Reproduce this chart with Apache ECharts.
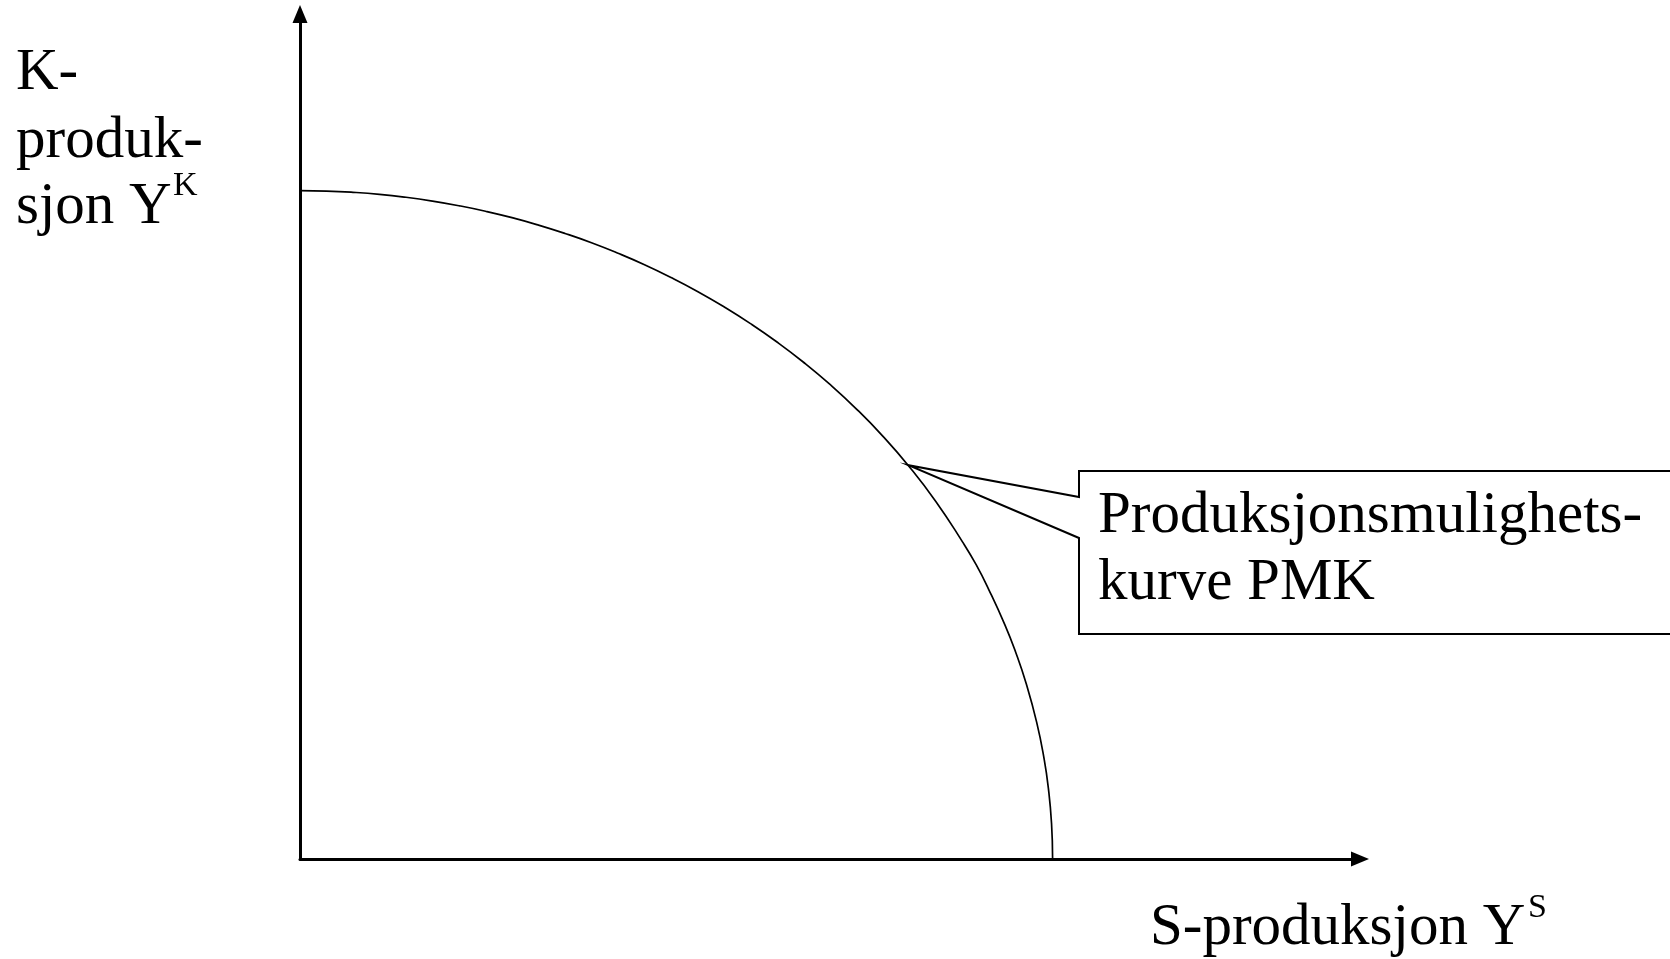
<!DOCTYPE html>
<html><head><meta charset="utf-8">
<script src="https://cdn.jsdelivr.net/npm/echarts@6/dist/echarts.min.js"></script>
<style>html,body{margin:0;padding:0;background:#fff}#c{width:1670px;height:959px}</style>
</head><body><div id="c"></div>
<script>
// Production possibility curve (abstract units 0..100)
const curveX = [0, 2.5, 5, 7.5, 10, 12.5, 15, 17.5, 20, 22.5, 25, 27.5, 30, 32.5, 35, 37.5, 40, 42.5, 45, 47.5, 50, 52.5, 55, 57.5, 60, 62.5, 63.8, 65, 66.5, 67.5, 68.5, 69.5, 70.2, 70.6, 70.9, 71.0];
const curveY = [79.1, 79.05, 78.9, 78.66, 78.31, 77.86, 77.31, 76.66, 75.9, 75.02, 74.03, 72.93, 71.69, 70.33, 68.82, 67.17, 65.35, 63.36, 61.18, 58.79, 56.16, 53.25, 50.02, 46.4, 42.29, 37.53, 34.8, 31.83, 27.71, 24.53, 20.8, 16.17, 11.84, 8.38, 4.2, 0];
const axisMaxX = 100;
const axisMaxY = 100;
const yLabelLines = ['K-', 'produk-', 'sjon Y'];
const yLabelSup = 'K';
const xLabelText = 'S-produksjon Y';
const xLabelSup = 'S';
const calloutLines = ['Produksjonsmulighets-', 'kurve PMK'];
const calloutAnchor = [57.4, 46.6];

const FONT = "'Liberation Serif', 'Times New Roman', serif";
const FS = 59, SUP = 34;
const chart = echarts.init(document.getElementById('c'), null, {renderer: 'canvas'});

function axis(max) {
  return {
    type: 'value', min: 0, max: max,
    axisLine: {show: true, onZero: true, symbol: ['none', 'triangle'], symbolSize: [15, 18],
      lineStyle: {color: '#000', width: 3}},
    axisTick: {show: false}, axisLabel: {show: false}, splitLine: {show: false}
  };
}

chart.setOption({
  animation: false,
  backgroundColor: '#fff',
  grid: {left: 300, right: 310, top: 14, bottom: 100, containLabel: false},
  xAxis: axis(axisMaxX),
  yAxis: axis(axisMaxY),
  series: [{
    type: 'line',
    data: curveX.map((x, i) => [x, curveY[i]]),
    smooth: 0.5,
    symbol: 'none',
    lineStyle: {color: '#000', width: 1.7},
    z: 3
  }]
});

function txt(x, baseline, str, size) {
  return {
    type: 'text', x: x, y: baseline - 0.3375 * size, z: 10,
    style: {text: str, fontFamily: FONT, fontSize: size, fill: '#000', align: 'left', verticalAlign: 'middle'}
  };
}

const a = chart.convertToPixel({gridIndex: 0}, calloutAnchor);
const boxL = 1079, boxT = 471, boxB = 634;
const graphics = [
  {
    type: 'polyline', z: 5,
    shape: {points: [[1680, boxT], [boxL, boxT], [boxL, 497], a, [boxL, 538], [boxL, boxB], [1680, boxB]]},
    style: {stroke: '#000', lineWidth: 2, fill: null}
  },
  txt(1098, 536, calloutLines[0], FS),
  txt(1098, 603, calloutLines[1], FS),
  txt(16, 93, yLabelLines[0], FS),
  txt(16, 161, yLabelLines[1], FS),
  txt(16, 227, yLabelLines[2], FS),
  txt(173, 198, yLabelSup, SUP),
  txt(1150, 948, xLabelText, FS),
  txt(1528, 920, xLabelSup, SUP)
];
chart.setOption({graphic: graphics});
</script></body></html>
